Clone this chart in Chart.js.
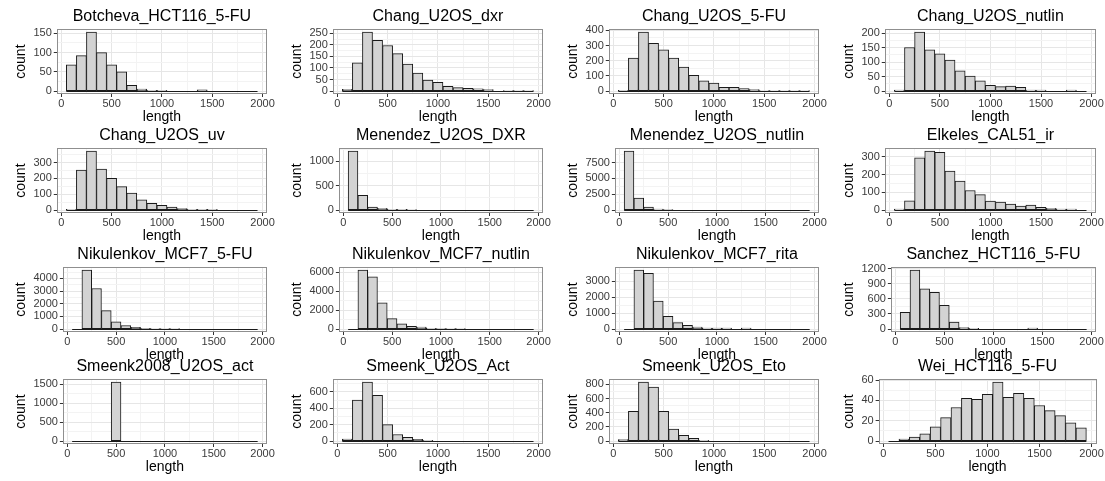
<!DOCTYPE html>
<html>
<head>
<meta charset="utf-8">
<script src="https://cdn.jsdelivr.net/npm/chart.js@4.4.1/dist/chart.umd.min.js"></script>
<style>
  html, body { margin: 0; padding: 0; background: #fff; }
  #grid { position: relative; width: 1105px; height: 481px; overflow: hidden; }
  .cell { position: absolute; }
</style>
</head>
<body>
<div id="grid"></div>
<script>
// histogram bins: width 100, centred on 100 .. 1900
const binWidth = 100;
const binCenters = [100, 200, 300, 400, 500, 600, 700, 800, 900, 1000,
                    1100, 1200, 1300, 1400, 1500, 1600, 1700, 1800, 1900];

const panelTitles = [
  'Botcheva_HCT116_5-FU', 'Chang_U2OS_dxr', 'Chang_U2OS_5-FU', 'Chang_U2OS_nutlin',
  'Chang_U2OS_uv', 'Menendez_U2OS_DXR', 'Menendez_U2OS_nutlin', 'Elkeles_CAL51_ir',
  'Nikulenkov_MCF7_5-FU', 'Nikulenkov_MCF7_nutlin', 'Nikulenkov_MCF7_rita', 'Sanchez_HCT116_5-FU',
  'Smeenk2008_U2OS_act', 'Smeenk_U2OS_Act', 'Smeenk_U2OS_Eto', 'Wei_HCT116_5-FU'
];

const botchevaHct116_5fu = [68, 92, 153, 100, 68, 50, 15, 5, 2, 2, 0, 0, 0, 3, 0, 0, 0, 0, 0];
const changU2osDxr      = [8, 122, 255, 220, 197, 162, 117, 78, 47, 38, 20, 15, 12, 10, 6, 0, 2, 2, 2];
const changU2os5fu      = [5, 218, 388, 315, 272, 218, 158, 103, 67, 52, 25, 25, 17, 10, 3, 3, 2, 2, 2];
const changU2osNutlin   = [3, 150, 203, 142, 128, 107, 70, 52, 35, 20, 15, 17, 13, 3, 3, 0, 0, 3, 0];
const changU2osUv       = [5, 252, 372, 258, 200, 148, 107, 65, 42, 30, 18, 10, 5, 5, 5, 0, 0, 0, 0];
const menendezU2osDxr   = [1210, 300, 60, 35, 15, 15, 10, 0, 0, 0, 0, 0, 0, 0, 0, 0, 0, 0, 0];
const menendezU2osNutlin = [9300, 1900, 450, 150, 20, 0, 0, 0, 0, 0, 0, 0, 0, 0, 0, 0, 0, 0, 0];
const elkelesCal51Ir    = [5, 52, 295, 332, 325, 220, 163, 110, 87, 50, 45, 33, 22, 28, 15, 10, 5, 5, 0];
const nikulenkovMcf7_5fu = [0, 4650, 3200, 1450, 580, 280, 130, 50, 40, 40, 40, 0, 0, 0, 0, 0, 0, 0, 0];
const nikulenkovMcf7Nutlin = [0, 6200, 5500, 2750, 1100, 550, 280, 200, 80, 60, 50, 50, 0, 0, 0, 0, 0, 0, 0];
const nikulenkovMcf7Rita = [0, 3700, 3500, 1750, 800, 400, 230, 120, 60, 60, 60, 0, 60, 0, 0, 0, 0, 0, 0];
const sanchezHct116_5fu = [330, 1170, 800, 730, 470, 140, 30, 15, 0, 0, 0, 0, 0, 20, 0, 0, 0, 0, 0];
const smeenk2008U2osAct = [0, 0, 0, 0, 1560, 0, 0, 0, 0, 0, 0, 0, 0, 0, 0, 0, 0, 0, 0];
const smeenkU2osAct     = [25, 500, 720, 560, 200, 80, 45, 20, 10, 0, 0, 0, 0, 0, 0, 0, 0, 0, 0];
const smeenkU2osEto     = [20, 420, 830, 760, 420, 170, 80, 40, 10, 0, 0, 0, 0, 0, 0, 0, 0, 0, 0];
const weiHct116_5fu     = [0, 2, 4, 7, 14, 23, 33, 42, 41, 46, 58, 43, 47, 42, 35, 30, 25, 18, 13];

const panelCounts = [
  botchevaHct116_5fu, changU2osDxr, changU2os5fu, changU2osNutlin,
  changU2osUv, menendezU2osDxr, menendezU2osNutlin, elkelesCal51Ir,
  nikulenkovMcf7_5fu, nikulenkovMcf7Nutlin, nikulenkovMcf7Rita, sanchezHct116_5fu,
  smeenk2008U2osAct, smeenkU2osAct, smeenkU2osEto, weiHct116_5fu
];

// major y break spacing per panel (minor lines fall half way between)
const yBreakSteps = [50, 50, 100, 50, 100, 500, 2500, 100, 1000, 2000, 1000, 300, 500, 200, 200, 20];
const xBreaks = [0, 500, 1000, 1500, 2000];

const FONT = '"Liberation Sans", Arial, Helvetica, sans-serif';
const colLeft = [0, 276, 552, 828];
const rowTop = [0, 119, 238, 350];

// grey panel outline plus the flat outline of empty bins along zero
const panelFrame = {
  id: 'panelFrame',
  afterDatasetsDraw(chart) {
    const { ctx, scales: { x, y } } = chart;
    const y0 = Math.round(y.getPixelForValue(0)) + 0.5;
    ctx.save();
    ctx.strokeStyle = '#1a1a1a';
    ctx.lineWidth = 1;
    ctx.beginPath();
    ctx.moveTo(x.getPixelForValue(binCenters[0] - binWidth / 2), y0);
    ctx.lineTo(x.getPixelForValue(binCenters[binCenters.length - 1] + binWidth / 2), y0);
    ctx.stroke();
    ctx.restore();
  },
  afterDraw(chart) {
    const { ctx, chartArea: a } = chart;
    ctx.save();
    ctx.strokeStyle = '#8f8f8f';
    ctx.lineWidth = 1;
    ctx.strokeRect(Math.round(a.left) + 0.5, Math.round(a.top) + 0.5,
                   Math.round(a.width) - 1, Math.round(a.height) - 1);
    ctx.restore();
  }
};

const grid = document.getElementById('grid');

panelTitles.forEach((title, i) => {
  const counts = panelCounts[i];
  const step = yBreakSteps[i];
  const yMax = Math.max(...counts);
  const xSpan = binCenters[binCenters.length - 1] + binWidth / 2 - (binCenters[0] - binWidth / 2);
  const xLo = binCenters[0] - binWidth / 2 - xSpan * 0.05;
  const xHi = binCenters[binCenters.length - 1] + binWidth / 2 + xSpan * 0.05;

  const canvas = document.createElement('canvas');
  canvas.className = 'cell';
  const col = i % 4, row = Math.floor(i / 4);
  canvas.width = col === 3 ? 277 : 276;
  canvas.height = 124;
  canvas.style.left = colLeft[col] + 'px';
  canvas.style.top = rowTop[row] + 'px';
  grid.appendChild(canvas);

  const xMinor = [];
  for (let v = xBreaks[0]; v <= xBreaks[xBreaks.length - 1]; v += 250) xMinor.push(v);
  const yLines = [];
  for (let v = 0; v <= yMax * 1.05; v += step / 2) yLines.push(v);

  new Chart(canvas, {
    type: 'bar',
    data: {
      datasets: [{
        data: binCenters.map((c, k) => ({ x: c, y: counts[k] })),
        backgroundColor: '#D3D3D3',
        borderColor: '#1a1a1a',
        borderWidth: 1,
        borderSkipped: false,
        barPercentage: 1,
        categoryPercentage: 1
      }]
    },
    options: {
      responsive: false,
      animation: false,
      events: [],
      layout: { padding: { left: 13, right: 7, top: 0, bottom: 0 } },
      plugins: {
        legend: { display: false },
        tooltip: { enabled: false },
        title: {
          display: true,
          text: title,
          fullSize: false,
          color: '#000',
          font: { family: FONT, size: 16, weight: 'normal', lineHeight: 1.2 },
          padding: { top: 7, bottom: 3 }
        }
      },
      scales: {
        x: {
          type: 'linear',
          min: xLo,
          max: xHi,
          offset: false,
          afterBuildTicks: s => { s.ticks = xMinor.map(v => ({ value: v })); },
          ticks: {
            autoSkip: false,
            maxRotation: 0,
            padding: 1,
            color: '#3a3a3a',
            font: { family: FONT, size: 11, lineHeight: 1 },
            callback: v => (xBreaks.includes(v) ? String(v) : '')
          },
          grid: {
            offset: false,
            color: c => (xBreaks.includes(c.tick.value) ? '#E6E6E6' : '#F3F3F3'),
            tickColor: c => (xBreaks.includes(c.tick.value) ? '#333' : 'rgba(0,0,0,0)'),
            tickLength: 3
          },
          border: { display: false },
          title: {
            display: true, text: 'length', color: '#000', padding: 0,
            font: { family: FONT, size: 14, lineHeight: 1.0 }
          }
        },
        y: {
          type: 'linear',
          min: -yMax * 0.05,
          max: yMax * 1.05,
          afterBuildTicks: s => { s.ticks = yLines.map(v => ({ value: v })); },
          ticks: {
            autoSkip: false,
            padding: 2,
            color: '#3a3a3a',
            font: { family: FONT, size: 11, lineHeight: 1 },
            callback: v => (v % step === 0 ? String(v) : '')
          },
          grid: {
            color: c => (c.tick.value % step === 0 ? '#E6E6E6' : '#F3F3F3'),
            tickColor: c => (c.tick.value % step === 0 ? '#333' : 'rgba(0,0,0,0)'),
            tickLength: 3
          },
          border: { display: false },
          title: {
            display: true, text: 'count', color: '#000', padding: { top: 0, bottom: 3 },
            font: { family: FONT, size: 14, lineHeight: 1.1 }
          }
        }
      }
    },
    plugins: [panelFrame]
  });
});
</script>
</body>
</html>
